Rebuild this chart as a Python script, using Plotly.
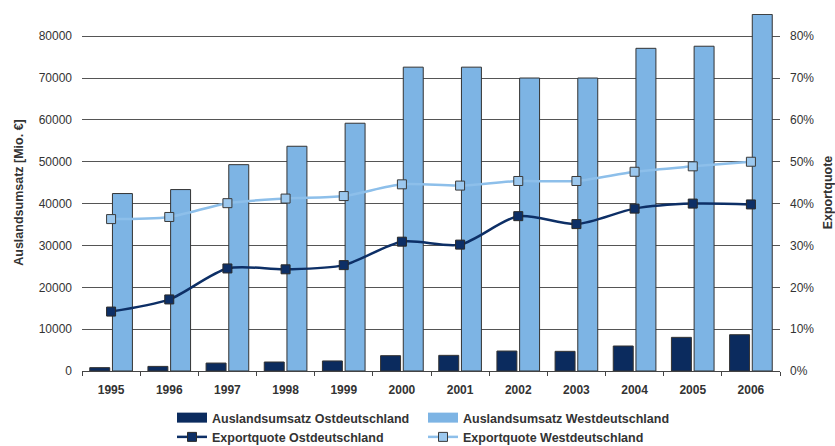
import plotly.graph_objects as go

# Jahre und Werte
jahre = ["1995", "1996", "1997", "1998", "1999", "2000",
         "2001", "2002", "2003", "2004", "2005", "2006"]

# Auslandsumsatz in Mio. €
umsatz_ost = [800, 1100, 1900, 2150, 2400, 3660, 3740, 4770, 4700, 5970, 8040, 8670]
umsatz_west = [42400, 43350, 49300, 53700, 59200, 72600, 72600, 70000, 70000, 77100, 77600, 85200]

# Exportquote (Anteil)
quote_ost = [0.142, 0.171, 0.245, 0.243, 0.253, 0.309, 0.302, 0.370, 0.351, 0.388, 0.400, 0.398]
quote_west = [0.363, 0.368, 0.401, 0.412, 0.418, 0.446, 0.443, 0.454, 0.454, 0.476, 0.489, 0.500]

name_uo = "Auslandsumsatz Ostdeutschland"
name_uw = "Auslandsumsatz Westdeutschland"
name_qo = "Exportquote Ostdeutschland"
name_qw = "Exportquote Westdeutschland"

DARK = "#0B2B5E"
LIGHT = "#7DB4E4"
EDGE = "#333333"
TXT = "#333333"
FONT = "Liberation Sans, Arial, sans-serif"

fig = go.Figure()

fig.add_trace(go.Bar(x=jahre, y=umsatz_ost, name=name_uo, legendgroup="uo",
                     showlegend=False,
                     marker=dict(color=DARK, line=dict(color=EDGE, width=1))))
fig.add_trace(go.Bar(x=jahre, y=umsatz_west, name=name_uw, legendgroup="uw",
                     showlegend=False,
                     marker=dict(color=LIGHT, line=dict(color=EDGE, width=1))))

fig.add_trace(go.Scatter(x=jahre, y=quote_ost, name=name_qo, yaxis="y2",
                         mode="lines+markers", legendgroup="qo", showlegend=False,
                         line=dict(color="#0D2F66", width=2.5, shape="spline", smoothing=0.8),
                         marker=dict(symbol="square", size=9, color="#0D2F66",
                                     line=dict(color="#2a2a2a", width=1))))
fig.add_trace(go.Scatter(x=jahre, y=quote_west, name=name_qw, yaxis="y2",
                         mode="lines+markers", legendgroup="qw", showlegend=False,
                         line=dict(color="#8DBFEA", width=2.5, shape="spline", smoothing=0.8),
                         marker=dict(symbol="square", size=9, color="#9CC8EE",
                                     line=dict(color="#3a3a3a", width=1))))

# Legendeneinträge: breite Farbfelder für die Säulen, Linie mit Marker für die Quoten
fig.add_trace(go.Scatter(x=[None], y=[None], mode="lines", name=name_uo, legendgroup="uo",
                         line=dict(color=DARK, width=10)))
fig.add_trace(go.Scatter(x=[None], y=[None], mode="lines", name=name_uw, legendgroup="uw",
                         line=dict(color=LIGHT, width=10)))
fig.add_trace(go.Scatter(x=[None], y=[None], mode="lines+markers", name=name_qo, legendgroup="qo",
                         line=dict(color="#0D2F66", width=2.5),
                         marker=dict(symbol="square", size=9, color="#0D2F66",
                                     line=dict(color="#2a2a2a", width=1))))
fig.add_trace(go.Scatter(x=[None], y=[None], mode="lines+markers", name=name_qw, legendgroup="qw",
                         line=dict(color="#8DBFEA", width=2.5),
                         marker=dict(symbol="square", size=9, color="#9CC8EE",
                                     line=dict(color="#3a3a3a", width=1))))

fig.update_layout(
    width=835, height=446,
    margin=dict(l=82, r=55, t=14, b=75, autoexpand=False),
    paper_bgcolor="white", plot_bgcolor="white",
    font=dict(family=FONT, size=12, color=TXT),
    barmode="group", bargap=0.22, bargroupgap=0.12,
    showlegend=True,
    legend=dict(orientation="h", xref="container", yref="container",
                x=172 / 835, y=1 - 403 / 446, xanchor="left", yanchor="top",
                entrywidth=206, entrywidthmode="pixels", tracegroupgap=0,
                traceorder="normal",
                font=dict(family=FONT, size=12.5, color=TXT, weight="bold"),
                bgcolor="rgba(0,0,0,0)", itemclick=False, itemdoubleclick=False),
    xaxis=dict(type="category", range=[-0.5, 11.5], automargin=False,
               showline=True, linecolor="#444", linewidth=1,
               ticks="outside", tickson="boundaries", ticklen=4, tickcolor="#444",
               showgrid=False, ticklabelstandoff=8,
               tickfont=dict(family=FONT, size=12, color=TXT, weight="bold")),
    yaxis=dict(range=[0, 85300], tickvals=[0, 10000, 20000, 30000, 40000, 50000, 60000, 70000, 80000],
               tickformat="d", showgrid=True, gridcolor="#555", gridwidth=1, automargin=False,
               zeroline=False, showline=False, ticks="", ticklabelstandoff=9,
               tickfont=dict(family=FONT, size=12, color=TXT),
               title=dict(text="Auslandsumsatz [Mio. €]", standoff=12,
                          font=dict(family=FONT, size=12.5, color=TXT, weight="bold"))),
    yaxis2=dict(overlaying="y", side="right", range=[0, 0.853], automargin=False,
                tickvals=[0, 0.1, 0.2, 0.3, 0.4, 0.5, 0.6, 0.7, 0.8], tickformat=".0%",
                showgrid=False, zeroline=False, showline=False, ticks="",
                ticklabelstandoff=9,
                tickfont=dict(family=FONT, size=12, color=TXT),
                title=dict(text="Exportquote", standoff=12,
                           font=dict(family=FONT, size=12.5, color=TXT, weight="bold"))),
)

fig.write_html("out.html")
